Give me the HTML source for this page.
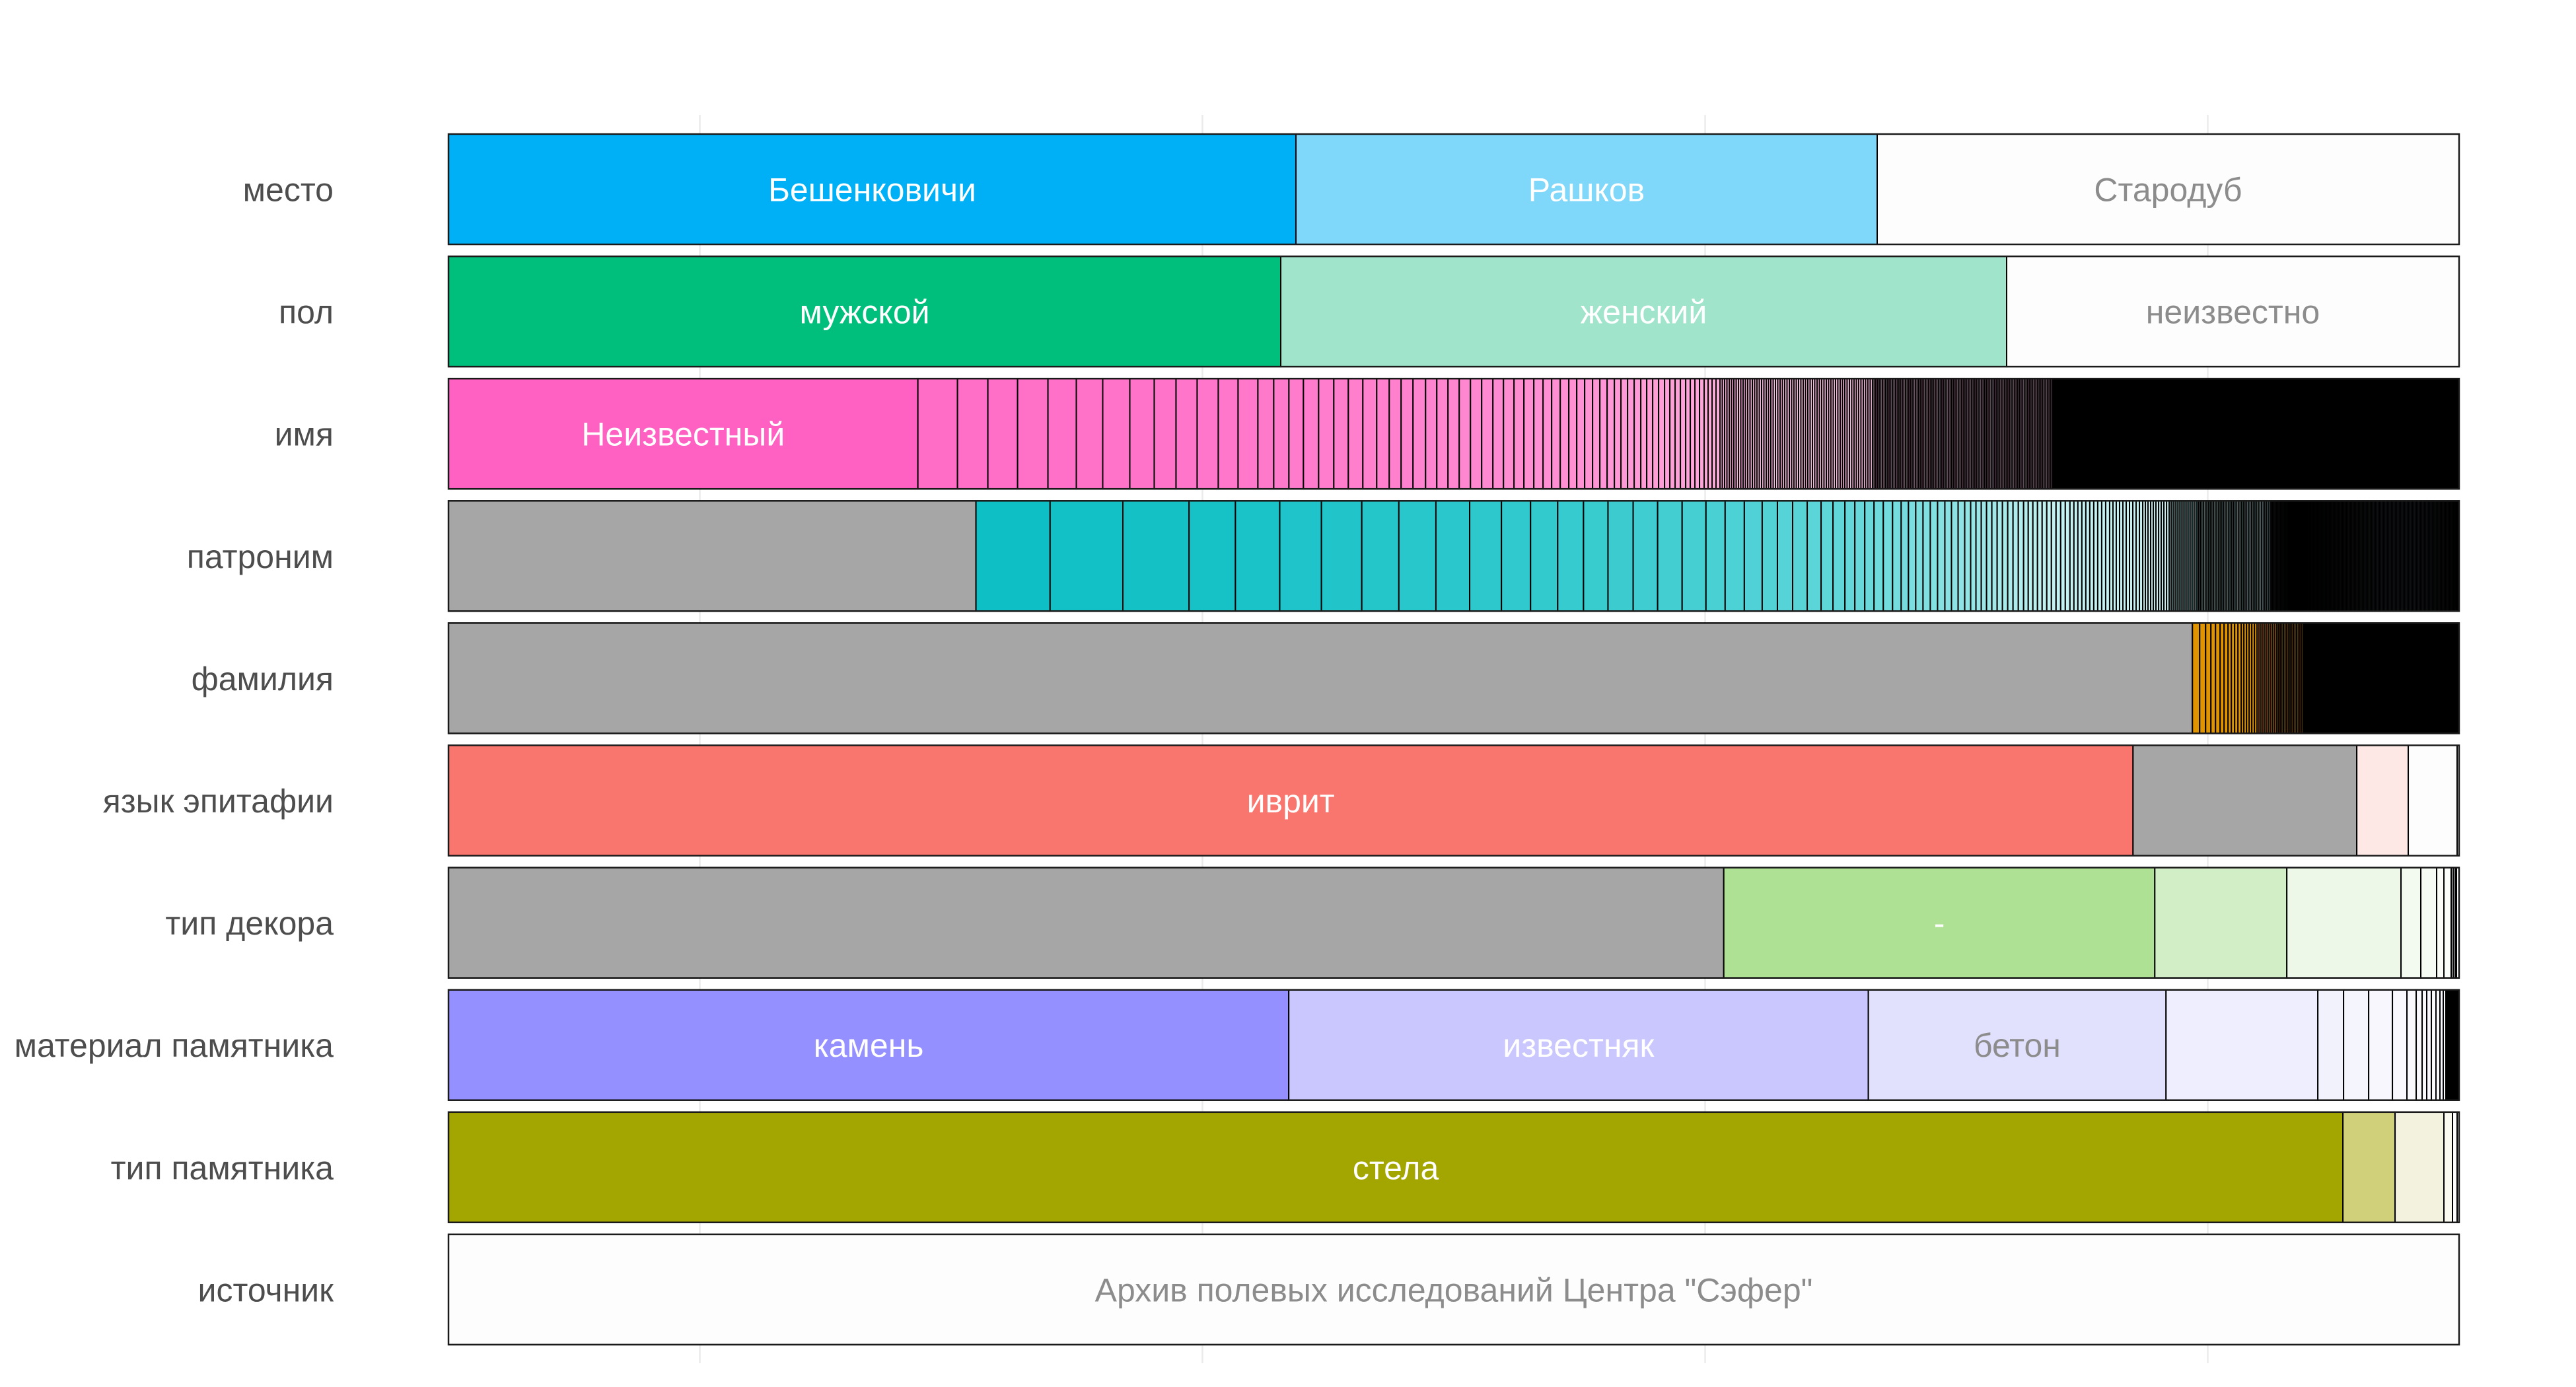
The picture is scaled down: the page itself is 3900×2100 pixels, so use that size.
<!DOCTYPE html>
<html><head><meta charset="utf-8"><style>
html,body{margin:0;padding:0;background:#fff;}
svg{display:block;}
text{font-family:"Liberation Sans",sans-serif;}
</style></head><body>
<svg id="chart" width="3900" height="2100" viewBox="0 0 3900 2100" xmlns="http://www.w3.org/2000/svg">
<rect x="0" y="0" width="3900" height="2100" fill="#ffffff"/>
<g id="grid"></g><g id="bars"></g><g id="labels"></g>
</svg>
<script>
const rowNames = ['место','пол','имя','патроним','фамилия','язык эпитафии','тип декора','материал памятника','тип памятника','источник'];
const mestoVals = [1283, 880, 881];
const mestoLabels = ['Бешенковичи','Рашков','Стародуб'];
const polVals = [1260, 1099, 685];
const polLabels = ['мужской','женский','неизвестно'];
const imyaVals = [711,60,46,45,46,43,40,41,37,33,32,32,30,30,24,23,22,23,23,22,22,21,19,18,18,19,17,17,17,17,17,17,16,16,15,15,14,13,13,13,12,12,12,11,11,11,
10,10,10,10,9,9,9,9,8,8,8,8,7,7,7,7,6,6,6,6,
3.5,3.5,3.5,3.5,3.5,3.5,3.5,3.5,3.5,3.5,3.5,
3.5,3.5,3.5,3.5,3.5,3.5,3.5,3.5,3.5,3.5,3.5,
3.5,3.5,3.5,3.5,3.5,3.5,3.5,3.5,3.5,3.5,3.5,
3.5,3.5,3.5,3.5,3.5,3.5,3.5,3.5,3.5,3.5,3.5,
3.5,3.5,3.5,3.5,3.5,3.5,3.5,3.5,3.5,3.5,3.5,
3.5,3.5,3.5,3.5,3.5,3.5,3.5,3.5,3.5,3.5,3.5,
2.5,2.5,2.5,2.5,2.5,2.5,2.5,2.5,2.5,2.5,
2.5,2.5,2.5,2.5,2.5,2.5,2.5,2.5,2.5,2.5,
2.5,2.5,2.5,2.5,2.5,2.5,2.5,2.5,2.5,2.5,
2.5,2.5,2.5,2.5,2.5,2.5,2.5,2.5,2.5,2.5,
2.5,2.5,2.5,2.5,2.5,2.5,2.5,2.5,2.5,2.5,
2.5,2.5,2.5,2.5,2.5,2.5,2.5,2.5,2.5,2.5,
2.5,2.5,2.5,2.5,2.5,2.5,2.5,2.5,2.5,2.5,
2.5,2.5,2.5,2.5,2.5,2.5,2.5,2.5,2.5,2.5,
2.5,2.5,2.5,2.5,2.5,2.5,2.5,2.5,2.5,2.5,
2.5,2.5,2.5,2.5,2.5,2.5,2.5,2.5,2.5,2.5,
2.5,2.5,2.5,2.5,2.5,2.5,2.5,2.5,2.5,
2,2,2,2,2,2,2,2,2,2,2,2,2,2,2,2,2,2,2,2,2,2,2,2,2,2,2,2,2,2,2,2,2,2,2,2,2,2,2,2,2,2,2,2,2,2,2,2,2,2,
2,2,2,2,2,2,2,2,2,2,2,2,2,2,2,2,2,2,2,2,2,2,2,2,2,2,2,2,2,2,2,2,2,2,2,2,2,2,2,2,2,2,2,2,2,2,2,2,2,2,
2,2,2,2,2,2,2,2,2,2,2,2,2,2,2,2,2,2,2,2,2,2,2,2,2,2,2,2,2,2,2,2,2,2,2,2,2,2,2,2,2,2,2,2,2,2,2,2,2,2,
2,2,2,2,2,2,2,2,2,2,2,2,2,2,2,2,2,2,2,2,2,2,2,2,2,2,2,2,2,2,2,2,2,2,2,2,2,2,2,2,2,2,2,2,2,2,2,2,2,2,
2,2,2,2,2,2,2,2,2,2,2,2,2,2,2,2,2,2,2,2,2,2,2,2,2,2,2,2,2,2,2,2,2,2,2,2,2,2,2,2,2,2,2,2,2,2,2,2,2,2,
2,2,2,2,2,2,2,2,2,2,2,2,2,2,2,2,2,2,2,2,2,2,2,2,2,2,2,2,2,2,2,2,2,2,2,2,2,2,2,2,2,2,2,2,2,2,2,2,2,2,
2,2,2,2,2,2,2,2];
const imyaLabels = ['Неизвестный'];
const patrVals = [797,112,110,100,70,67,63,61,56,56,51,48,44,41,39,37,38,37,37,36,29,
29,27,23,23,22,21,18,18,15,15,14,14,14,13,11,11,11,11,11,11,10,10,10,9,
8,8,8,8,8,8,8,8,8,8,7,7,7,7,7,7,7,7,7,7,6,6,6,6,6,6,6,6,6,6,5,5,5,5,5,5,5,5,5,5,4,4,4,4,4,4,4,4,4,4,
3,3,3,3,3,3,3,3,3,3,3,3,3,3,
2.5,2.5,2.5,2.5,2.5,2.5,2.5,2.5,2.5,2.5,2.5,
2.5,2.5,2.5,2.5,2.5,2.5,2.5,2.5,2.5,2.5,2.5,
2.5,2.5,2.5,2.5,2.5,2.5,2.5,2.5,2.5,2.5,2.5,
2.5,2.5,2.5,2.5,2.5,2.5,2.5,2.5,2.5,2.5,2.5,
2,2,2,2,2,2,2,2,2,2,2,2,2,2,2,2,2,2,2,2,2,2,2,2,2,2,2,2,2,2,2,2,2,2,2,2,2,2,2,2,2,2,2,2,2,2,2,2,2,2,
2,2,2,2,2,2,2,2,2,2,2,2,2,2,2,2,2,2,2,2,2,2,2,2,2,2,2,2,2,2,2,2,2,2,2,2,2,2,2,2,2,2,2,2,2,2,2,2,2,2,
2,2,2,2,2,2,2,2,2,2,2,2,2,2,2,2,2,2,2,2,2,2,2,2,2,2,2,2,2,2,2,2,2,2,2,2,2,2,2,2,2,2,2];
const patrLabels = [''];
const famVals = [2642,11,9,8,7,7,6,6,5,5,5,5,4,4,4,4,4,4,3,3,3,3,3,3,3,3,3,3,
2.5,2.5,2.5,2.5,2.5,2.5,2.5,2.5,2.5,2.5,2.5,2.5,2.5,2.5,2.5,2.5,
2,2,2,2,2,2,2,2,2,2,2,2,2,2,2,2,2,2,2,2,2,2,2,2,2,2,2,2,2,2,2,2,2,2,2,2,2,2,2,2,2,2,2,2,2,2,2,2,2,2,
2,2,2,2,2,2,2,2,2,2,2,2,2,2,2,2,2,2,2,2,2,2,2,2,2,2,2,2,2,2,2,2,2,2,2,2,2,2,2,2,2,2,2,2,2,2,2,2,2,2,
2,2,2,2,2,2,2,2,2,2,2,2,2,2,2,2,2,2];
const famLabels = [''];
const yazykVals = [2552, 339, 78, 74, 3];
const yazykLabels = ['иврит'];
const dekorVals = [1932, 653, 200, 173, 30, 24, 11, 11, 3, 3, 2, 4];
const dekorLabels = ['', '-'];
const materialVals = [1273, 878, 451, 230, 39, 38, 36, 22, 14, 9, 7, 7, 7, 6, 5, 4, 2,2,2,2,2,2,2,2,2,2];
const materialLabels = ['камень','известняк','бетон'];
const tipVals = [2870, 79, 74, 13, 7, 3];
const tipLabels = ['стела'];
const istVals = [1];
const istLabels = ['Архив полевых исследований Центра "Сэфер"'];

const rowsVals = [mestoVals, polVals, imyaVals, patrVals, famVals, yazykVals, dekorVals, materialVals, tipVals, istVals];
const rowsLabels = [mestoLabels, polLabels, imyaLabels, patrLabels, famLabels, yazykLabels, dekorLabels, materialLabels, tipLabels, istLabels];

const X0 = 679, W = 3044, Y0 = 203, PITCH = 185.1, H = 167;
function hex(c){return [parseInt(c.slice(1,3),16),parseInt(c.slice(3,5),16),parseInt(c.slice(5,7),16)];}
function mix(a,b,t){const A=hex(a),B=hex(b);return 'rgb('+A.map((v,i)=>Math.round(v+(B[i]-v)*t)).join(',')+')';}
const fixedColors = [
 ['#00b0f6','#7fd7fa','#fdfdfd'],
 ['#00bf7d','#9fe4cb','#fdfdfd'],
 null, null, null,
 ['#f8766d','#a6a6a6','#fde8e6','#fdfdfd','#fdfdfd'],
 ['#a6a6a6','#aee194','#d2eec6','#edf8e8','#f3faef','#f6fbf3','#f9fcf7','#fbfdfa','#fdfdfd','#fdfdfd','#fdfdfd','#fdfdfd'],
 ['#9590ff','#c9c7fd','#e1e0fd','#efeefe','#f2f2fd','#f5f5fd','#f7f7fd','#f9f9fd'],
 ['#a3a500','#d0d07a','#f2f2df','#fafaf0','#fdfdfd','#fdfdfd'],
 ['#fdfdfd']
];
function colorFor(r,i,n){
  if(r===2){ if(i===0) return '#ff61c3'; return mix('#ff6cc6','#ffc0e4',Math.min(1,i/90)); }
  if(r===3){ if(i===0) return '#a6a6a6'; return mix('#0bbfc4','#c4f1f1',Math.min(1,i/60)); }
  if(r===4){ if(i===0) return '#a6a6a6'; return '#e09500'; }
  const f=fixedColors[r]; return f[Math.min(i,f.length-1)];
}
const labelColor = [
 ['#ffffff','#ffffff','#8c8c8c'],
 ['#ffffff','#ffffff','#8c8c8c'],
 ['#ffffff'],[''],[''],['#ffffff'],['','#ffffff'],
 ['#ffffff','#ffffff','#8c8c8c'],['#ffffff'],['#8c8c8c']
];

const NS='http://www.w3.org/2000/svg';
const grid=document.getElementById('grid'), bars=document.getElementById('bars'), labels=document.getElementById('labels');
[0.125,0.375,0.625,0.875].forEach(function(f,k){
  const l=document.createElementNS(NS,'line');
  l.setAttribute('x1',X0+f*W);l.setAttribute('x2',X0+f*W);l.setAttribute('y1',174);l.setAttribute('y2',2064);
  l.setAttribute('stroke','#ebebeb');l.setAttribute('stroke-width','2.5');
  
  
  grid.appendChild(l);
});
function xScale(v,total){return X0 + v/total*W;}
rowsVals.forEach(function(vals,r){
  const total=vals.reduce((a,b)=>a+b,0);
  const y=Y0+r*PITCH;
  const g=document.createElementNS(NS,'g');
  
  
  bars.appendChild(g);
  let cum=0;
  vals.forEach(function(v,i){
    const x1=xScale(cum,total), x2=xScale(cum+v,total);
    const rc=document.createElementNS(NS,'rect');
    rc.setAttribute('x',x1);rc.setAttribute('y',y);rc.setAttribute('width',Math.max(0,x2-x1));rc.setAttribute('height',H);
    rc.setAttribute('fill',colorFor(r,i,vals.length));rc.setAttribute('stroke','#000');rc.setAttribute('stroke-width','2');
    
    
    g.appendChild(rc);
    const lab=rowsLabels[r][i];
    if(lab){
      const t=document.createElementNS(NS,'text');
      t.setAttribute('x',(x1+x2)/2);t.setAttribute('y',y+H/2+18);t.setAttribute('text-anchor','middle');
      t.setAttribute('font-size','50');t.setAttribute('fill',labelColor[r][i]||'#8c8c8c');
      t.textContent=lab;
      
      
      labels.appendChild(t);
    }
    cum+=v;
  });
  const ob=document.createElementNS(NS,'rect');
  ob.setAttribute('x',X0);ob.setAttribute('y',y);ob.setAttribute('width',W);ob.setAttribute('height',H);
  ob.setAttribute('fill','none');ob.setAttribute('stroke','#1a1a1a');ob.setAttribute('stroke-width','2.5');
  
  
  g.appendChild(ob);
  const rl=document.createElementNS(NS,'text');
  rl.setAttribute('x',505);rl.setAttribute('y',y+H/2+18);rl.setAttribute('text-anchor','end');
  rl.setAttribute('font-size','50');rl.setAttribute('fill','#4d4d4d');
  rl.textContent=rowNames[r];
  
  
  labels.appendChild(rl);
});
</script>
</body></html>
